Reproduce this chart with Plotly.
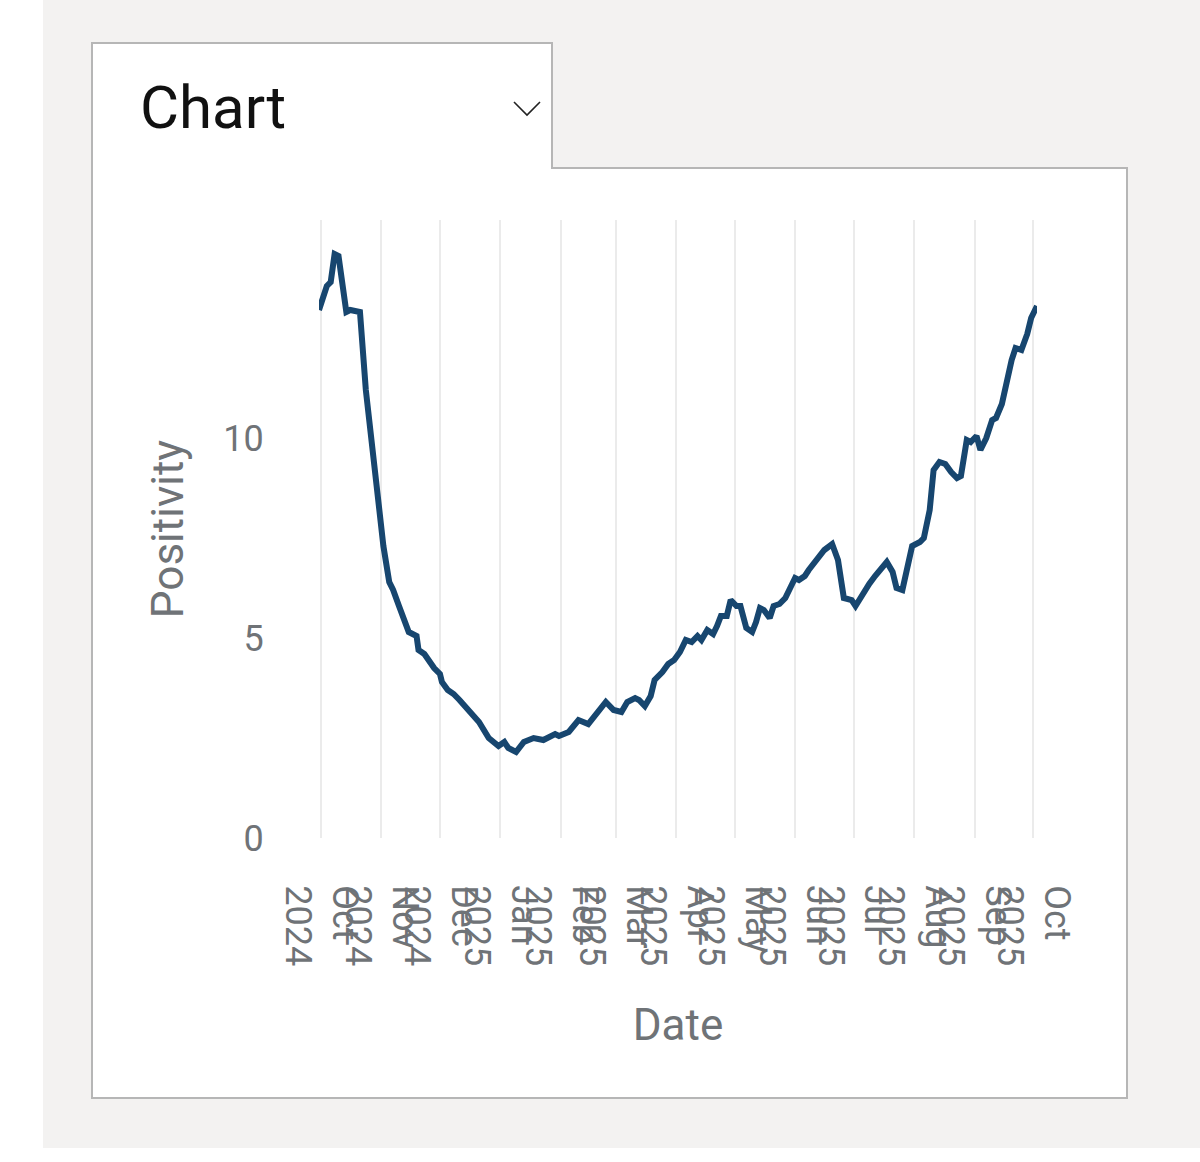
import plotly.graph_objects as go

# ---------------- data ----------------
dates = [
    "2024-09-30", "2024-10-04", "2024-10-06", "2024-10-08", "2024-10-10", "2024-10-14",
    "2024-10-16", "2024-10-21", "2024-10-24", "2024-10-27", "2024-10-30", "2024-11-02",
    "2024-11-05", "2024-11-07", "2024-11-10", "2024-11-13", "2024-11-15", "2024-11-19",
    "2024-11-20", "2024-11-23", "2024-11-25", "2024-11-28", "2024-12-01", "2024-12-02",
    "2024-12-05", "2024-12-08", "2024-12-11", "2024-12-16", "2024-12-21", "2024-12-26",
    "2024-12-29", "2024-12-31", "2025-01-03", "2025-01-05", "2025-01-09", "2025-01-13",
    "2025-01-18", "2025-01-23", "2025-01-29", "2025-01-31", "2025-02-05", "2025-02-10",
    "2025-02-15", "2025-02-20", "2025-02-24", "2025-02-28", "2025-03-04", "2025-03-07",
    "2025-03-11", "2025-03-13", "2025-03-16", "2025-03-19", "2025-03-21", "2025-03-25",
    "2025-03-28", "2025-03-31", "2025-04-03", "2025-04-06", "2025-04-09", "2025-04-12",
    "2025-04-14", "2025-04-17", "2025-04-20", "2025-04-22", "2025-04-24", "2025-04-27",
    "2025-04-29", "2025-05-02", "2025-05-04", "2025-05-07", "2025-05-10", "2025-05-12",
    "2025-05-14", "2025-05-16", "2025-05-19", "2025-05-21", "2025-05-24", "2025-05-27",
    "2025-05-29", "2025-06-01", "2025-06-03", "2025-06-06", "2025-06-08", "2025-06-11",
    "2025-06-13", "2025-06-16", "2025-06-20", "2025-06-23", "2025-06-26", "2025-06-30",
    "2025-07-02", "2025-07-05", "2025-07-09", "2025-07-12", "2025-07-15", "2025-07-18",
    "2025-07-21", "2025-07-23", "2025-07-26", "2025-07-28", "2025-07-31", "2025-08-04",
    "2025-08-06", "2025-08-09", "2025-08-11", "2025-08-14", "2025-08-17", "2025-08-20",
    "2025-08-23", "2025-08-25", "2025-08-28", "2025-08-30", "2025-09-02", "2025-09-04",
    "2025-09-07", "2025-09-10", "2025-09-12", "2025-09-15", "2025-09-18", "2025-09-20",
    "2025-09-22", "2025-09-25", "2025-09-28", "2025-09-30", "2025-10-03",
]
positivity = [
    13.2, 13.8, 13.9, 14.6, 14.55, 13.15,
    13.2, 13.15, 11.2, 9.95, 8.7, 7.3,
    6.4, 6.2, 5.8, 5.45, 5.15, 5.05,
    4.7, 4.6, 4.45, 4.25, 4.1, 3.9,
    3.7, 3.6, 3.45, 3.2, 2.9, 2.5,
    2.4, 2.3, 2.4, 2.25, 2.15, 2.4,
    2.5, 2.45, 2.6, 2.55, 2.65, 2.95,
    2.85, 3.15, 3.4, 3.2, 3.15, 3.4,
    3.5, 3.45, 3.3, 3.55, 3.95, 4.15,
    4.35, 4.45, 4.65, 4.95, 4.9, 5.05,
    4.95, 5.2, 5.1, 5.3, 5.55, 5.55,
    5.95, 5.8, 5.8, 5.25, 5.15, 5.4,
    5.75, 5.7, 5.5, 5.8, 5.85, 6.0,
    6.2, 6.5, 6.45, 6.55, 6.7, 6.9,
    7.0, 7.2, 7.35, 6.95, 6.0, 5.95,
    5.8, 6.05, 6.35, 6.55, 6.7, 6.9,
    6.65, 6.25, 6.2, 6.7, 7.3, 7.4,
    7.5, 8.2, 9.2, 9.4, 9.35, 9.15,
    9.0, 9.05, 9.95, 9.9, 10.05, 9.7,
    10.0, 10.45, 10.5, 10.85, 11.6, 11.95,
    12.25, 12.2, 12.6, 13.0, 13.3,
]

tick_dates = [
    "2024-10-01", "2024-11-01", "2024-12-01", "2025-01-01", "2025-02-01",
    "2025-03-01", "2025-04-01", "2025-05-01", "2025-06-01", "2025-07-01",
    "2025-08-01", "2025-09-01", "2025-10-01",
]
tick_labels = [
    "Oct<br>2024", "Nov<br>2024", "Dec<br>2024", "Jan<br>2025", "Feb<br>2025",
    "Mar<br>2025", "Apr<br>2025", "May<br>2025", "Jun<br>2025", "Jul<br>2025",
    "Aug<br>2025", "Sep<br>2025", "Oct<br>2025",
]
y_ticks = [0, 5, 10]

# ---------------- geometry helpers ----------------
W, H = 1200, 1162
PL, PR, PT, PB = 319, 1037, 220, 838  # plot area in pixels


def px(x):
    return (x - PL) / (PR - PL)


def py(y):
    return (PB - y) / (PB - PT)


GREY_TXT = "#6f7377"

fig = go.Figure()
fig.add_trace(go.Scatter(
    x=dates, y=positivity, mode="lines",
    line=dict(color="#17466f", width=6),
    showlegend=False, hoverinfo="skip",
))

shapes = [
    # page grey background
    dict(type="rect", xref="paper", yref="paper", layer="below",
         x0=px(43), x1=px(1200), y0=py(1148), y1=py(0),
         fillcolor="#f3f2f1", line=dict(width=0)),
    # white panel with tab
    dict(type="path", xref="paper", yref="paper", layer="below",
         path=(f"M {px(92)},{py(1098)} L {px(92)},{py(43)} L {px(552)},{py(43)} "
               f"L {px(552)},{py(168)} L {px(1127)},{py(168)} L {px(1127)},{py(1098)} Z"),
         fillcolor="white", line=dict(color="#b6b6b6", width=2)),
    # chevron
    dict(type="path", xref="paper", yref="paper",
         path=f"M {px(514)},{py(102)} L {px(527)},{py(115)} L {px(540)},{py(102)}",
         line=dict(color="#222222", width=1.6)),
]

fig.update_layout(
    width=W, height=H,
    margin=dict(l=PL, r=W - PR, t=PT, b=H - PB, autoexpand=False),
    paper_bgcolor="white",
    plot_bgcolor="rgba(0,0,0,0)",
    font=dict(family="Roboto", color=GREY_TXT),
    shapes=shapes,
    annotations=[dict(
        text="Chart", xref="paper", yref="paper", x=px(138), y=py(108),
        xanchor="left", yanchor="middle", showarrow=False,
        font=dict(family="Roboto", size=60, color="#111111"),
    )],
    xaxis=dict(
        type="date",
        range=[dates[0], dates[-1]],
        tickmode="array", tickvals=tick_dates, ticktext=tick_labels,
        tickangle=90,
        tickfont=dict(size=36, color=GREY_TXT),
        ticks="outside", ticklen=39, tickcolor="rgba(0,0,0,0)",
        showgrid=True, gridcolor="#ebebeb", gridwidth=2,
        showline=False, zeroline=False,
        title=dict(text="Date", font=dict(size=44, color=GREY_TXT), standoff=44),
        automargin=False,
    ),
    yaxis=dict(
        range=[0, 15.45],
        tickmode="array", tickvals=y_ticks,
        tickfont=dict(size=36, color=GREY_TXT),
        ticks="outside", ticklen=47, tickcolor="rgba(0,0,0,0)",
        showgrid=False, zeroline=False, showline=False,
        title=dict(text="Positivity", font=dict(size=44, color=GREY_TXT), standoff=25),
        automargin=False,
    ),
)

fig.write_html("out.html", config={"displayModeBar": False},
               post_script="document.body.style.margin='0';")
